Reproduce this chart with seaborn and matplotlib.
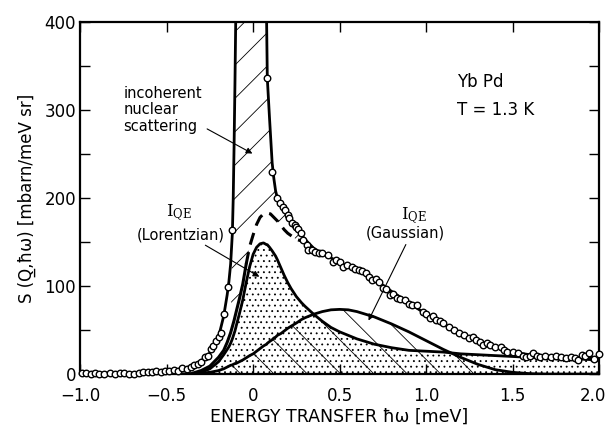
import numpy as np
import pandas as pd
import seaborn as sns
import matplotlib
matplotlib.use("Agg")
import matplotlib.pyplot as plt
import matplotlib.transforms as mtransforms

# ---------------- data ----------------
fit_x = [-1.0, -0.6, -0.5, -0.45, -0.4, -0.35, -0.3, -0.25, -0.2, -0.17, -0.15, -0.14, -0.13,
         -0.12, -0.115, -0.11, -0.105, -0.10, -0.08, -0.06, -0.04, -0.02, 0.0, 0.02, 0.04, 0.06,
         0.078, 0.082, 0.095, 0.11, 0.12, 0.13, 0.14, 0.16, 0.18, 0.20, 0.22, 0.25, 0.28, 0.30,
         0.35, 0.40, 0.45, 0.50, 0.55, 0.60, 0.70, 0.80, 0.90, 1.0, 1.1, 1.2, 1.3, 1.4, 1.5, 1.6,
         1.7, 1.8, 1.9, 2.0]
lorentz_y = [0, 0, 0, 0, 0, 0.5, 2, 6, 14, 22, 28, 31, 35,
             40, 43, 46, 49, 53, 68, 84, 104, 122, 136, 144, 148, 149,
             147, 147, 144, 140, 137, 134, 130, 121, 112, 104, 97, 88, 81, 77,
             68, 60, 53, 48, 44, 40, 34, 30, 27, 26, 25, 23, 22, 21, 20, 19,
             18, 17, 17, 16]
gauss_y = [0, 0, 0, 0, 0, 0.5, 1, 2, 4, 6, 8, 9, 10,
           10.5, 11, 11.5, 12, 12, 14, 16, 18.5, 21, 23, 26, 29, 32,
           34, 35, 37, 39, 41, 42, 44, 46, 49, 52, 54.5, 58, 62, 64,
           68, 71, 73, 73.5, 73, 71, 65, 57, 48, 38, 28, 19, 11, 5, 2, 0.5,
           0, 0, 0, 0]
total_y = [0.5, 1, 2, 4, 6, 10, 15, 24, 42, 66, 90, 105, 125,
           160, 200, 260, 330, 410, 600, 600, 600, 600, 600, 600, 600, 600,
           400, 336, 290, 240, 222, 208, 200, 192, 185, 179, 174, 166, 158, 153,
           143, 137, 132, 127, 122, 118, 108, 94, 81, 68, 57, 45, 37, 30, 25, 22,
           20, 19, 19, 19]
# quasielastic sum (drawn dashed near the peak)
qe_x = [-0.35, -0.3, -0.25, -0.2, -0.17, -0.15, -0.13, -0.11, -0.08, -0.06, -0.04, -0.02,
        0.0, 0.02, 0.04, 0.06, 0.08, 0.10, 0.12, 0.14, 0.16, 0.18, 0.20, 0.25, 0.30]
qe_y = [1, 4, 9, 19, 27, 36, 47, 61, 85, 102, 125, 145,
        158, 170, 178, 182, 183, 182, 178, 174, 169, 164, 160, 153, 150]

data_x = [-0.99, -0.965, -0.94, -0.915, -0.89, -0.86, -0.83, -0.80, -0.77, -0.745, -0.72, -0.69,
          -0.66, -0.635, -0.61, -0.585, -0.56, -0.535, -0.51, -0.485, -0.46, -0.435,
          -0.41, -0.385, -0.36, -0.34, -0.32, -0.30, -0.28, -0.26, -0.245, -0.23, -0.215, -0.20,
          -0.185, -0.17, -0.145, -0.12,
          0.08, 0.11, 0.14, 0.156, 0.17, 0.185, 0.20, 0.21, 0.225, 0.24, 0.25, 0.26, 0.275, 0.29,
          0.31, 0.32, 0.34, 0.36, 0.38, 0.40, 0.43, 0.46, 0.48, 0.50, 0.52, 0.545, 0.57, 0.59,
          0.61, 0.63, 0.65, 0.67, 0.69, 0.71, 0.73, 0.75, 0.77, 0.79, 0.81, 0.83, 0.85, 0.88,
          0.90, 0.92, 0.95, 0.98, 1.00, 1.02, 1.04, 1.06, 1.08, 1.10, 1.13, 1.16, 1.19, 1.22,
          1.25, 1.27, 1.29, 1.31, 1.33, 1.35, 1.37, 1.40, 1.43, 1.45, 1.47, 1.50, 1.53, 1.56,
          1.58, 1.60, 1.62, 1.64, 1.66, 1.69, 1.72, 1.75, 1.78, 1.81, 1.84, 1.86, 1.88, 1.90,
          1.92, 1.94, 1.97, 2.0]
data_y = [1, 1, 0, 1, 0, 0, 1, 0, 1, 1, 0, 0,
          1, 2, 2, 2, 3, 2, 4, 3, 5, 4,
          7, 6, 8, 10, 11, 14, 19, 21, 28, 32, 38, 42,
          47, 68, 99, 164,
          336, 230, 200, 194, 190, 186, 181, 177, 172, 169, 167, 165, 160, 152,
          147, 141, 141, 139, 137, 137, 135, 127, 130, 127, 122, 124, 122, 119,
          118, 117, 115, 110, 107, 108, 105, 98, 97, 90, 91, 86, 85, 84,
          80, 78, 78, 70, 68, 64, 66, 61, 60, 58, 54, 50, 47, 44,
          41, 42, 39, 36, 33, 35, 33, 31, 31, 27, 25, 25, 24, 21,
          19, 20, 24, 21, 19, 20, 19, 20, 19, 18, 19, 18, 16, 22,
          20, 24, 17, 23]

x_ticks = [-1.0, -0.5, 0, 0.5, 1.0, 1.5, 2.0]
x_ticklabels = ["\u22121.0", "\u22120.5", "0", "0.5", "1.0", "1.5", "2.0"]
y_ticks = [0, 100, 200, 300, 400]

# ---------------- plotting ----------------
sns.set_theme(style="ticks")
plt.rcParams["font.family"] = ["DejaVu Sans"]
plt.rcParams["mathtext.fontset"] = "dejavuserif"
plt.rcParams["hatch.linewidth"] = 0.6
plt.rcParams["hatch.color"] = "black"

fig = plt.figure(figsize=(6.07, 4.30), dpi=100)
ax = fig.add_axes([0.132, 0.130, 0.855, 0.819])

fx = np.array(fit_x)
L = np.array(lorentz_y)
G = np.array(gauss_y)
T = np.array(total_y)
QE = np.interp(fx, qe_x, qe_y)

# Lorentzian (stippled)
ax.fill_between(fx, 0, L, facecolor="none", edgecolor="black", hatch="...", linewidth=0)
# Gaussian (hatched \\)
ax.fill_between(fx, 0, G, facecolor="none", edgecolor="black", hatch="\\", linewidth=0)
# incoherent nuclear scattering (hatched /)
mask = (fx >= -0.12) & (fx <= 0.30)
ax.fill_between(fx, QE, T, where=mask, facecolor="none", edgecolor="black",
                hatch="/", linewidth=0, interpolate=True)

df_fit = pd.DataFrame({"x": fit_x, "L": lorentz_y, "G": gauss_y, "T": total_y})
sns.lineplot(data=df_fit, x="x", y="L", ax=ax, color="black", lw=2.0, estimator=None, sort=False)
sns.lineplot(data=df_fit, x="x", y="G", ax=ax, color="black", lw=2.0, estimator=None, sort=False)
sns.lineplot(data=df_fit, x="x", y="T", ax=ax, color="black", lw=2.0, estimator=None, sort=False)

df_qe = pd.DataFrame({"x": qe_x, "y": qe_y})
solid_part = df_qe[df_qe.x <= -0.04]
dash_part = df_qe[df_qe.x >= -0.04]
sns.lineplot(data=solid_part, x="x", y="y", ax=ax, color="black", lw=2.2, estimator=None, sort=False)
sns.lineplot(data=dash_part, x="x", y="y", ax=ax, color="black", lw=2.2, estimator=None,
             sort=False, linestyle=(0, (4, 2.5)))

df_pts = pd.DataFrame({"x": data_x, "y": data_y})
sns.scatterplot(data=df_pts, x="x", y="y", ax=ax, marker="o", s=22, facecolor="white",
                edgecolor="black", linewidth=1.0, zorder=5, clip_on=False)

ax.set_xlim(-1.0, 2.0)
ax.set_ylim(0, 400)
ax.set_xticks(x_ticks)
ax.set_xticklabels(x_ticklabels)
ax.set_yticks(y_ticks)
ax.set_yticks([50, 150, 250, 350], minor=True)
ax.tick_params(axis="both", which="both", direction="in", top=True, right=True,
               labelsize=12, width=1.0, color="black", labelcolor="black")
ax.tick_params(axis="both", which="major", length=7)
ax.tick_params(axis="both", which="minor", length=7)
ax.tick_params(axis="x", which="major", pad=9)
ax.tick_params(axis="y", which="major", pad=3)
for sp in ax.spines.values():
    sp.set_linewidth(1.6)
    sp.set_color("black")
# nudge the last x tick label slightly left so it stays inside the canvas
last = ax.get_xticklabels()[-1]
last.set_transform(last.get_transform() + mtransforms.ScaledTranslation(-6 / 100, 0, fig.dpi_scale_trans))

ax.set_xlabel("ENERGY TRANSFER \u0127\u03c9 [meV]", fontsize=12.5, color="black", labelpad=2)
ax.set_ylabel("S (Q\u0332,\u0127\u03c9) [mbarn/meV sr]", fontsize=12, color="black", labelpad=6)

# annotations
ax.text(-0.75, 300, "incoherent\nnuclear\nscattering", fontsize=10.5, ha="left", va="center",
        linespacing=1.1, color="black")
ax.annotate("", xy=(0.01, 249), xytext=(-0.28, 280),
            arrowprops=dict(arrowstyle="-|>", color="black", lw=0.8, mutation_scale=9))
ax.text(-0.43, 183, r"$\mathrm{I}_{\mathrm{QE}}$", fontsize=12, ha="center", va="center", color="black")
ax.text(-0.42, 158, "(Lorentzian)", fontsize=10.5, ha="center", va="center", color="black")
ax.annotate("", xy=(0.05, 109), xytext=(-0.29, 148),
            arrowprops=dict(arrowstyle="-|>", color="black", lw=0.8, mutation_scale=9))
ax.text(0.93, 180, r"$\mathrm{I}_{\mathrm{QE}}$", fontsize=12, ha="center", va="center", color="black")
ax.text(0.88, 160, "(Gaussian)", fontsize=10.5, ha="center", va="center", color="black")
ax.annotate("", xy=(0.66, 58), xytext=(0.89, 150),
            arrowprops=dict(arrowstyle="-|>", color="black", lw=0.8, mutation_scale=9))
ax.text(1.18, 332, "Yb Pd", fontsize=12, ha="left", va="center", color="black")
ax.text(1.18, 300, "T = 1.3 K", fontsize=12, ha="left", va="center", color="black")

fig.savefig("out.png", dpi=100)
